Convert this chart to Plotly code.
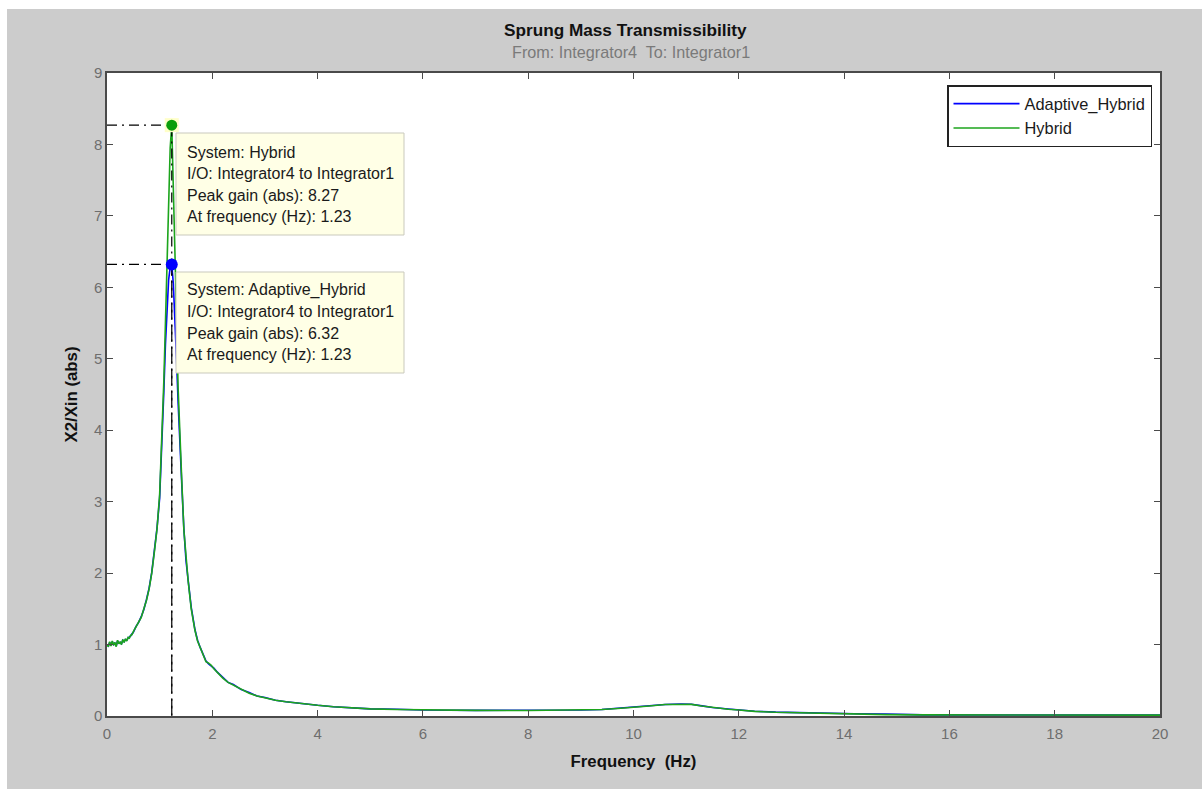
import plotly.graph_objects as go

# ---------------- data ----------------
freq = [0.000, 0.025, 0.050, 0.075, 0.100, 0.125, 0.150, 0.175, 0.200, 0.225,
        0.250, 0.275, 0.300, 0.325, 0.350, 0.375, 0.400, 0.425, 0.450, 0.475,
        0.500, 0.55, 0.60, 0.65, 0.70, 0.75, 0.80, 0.85, 0.90, 0.95,
        1.00, 1.04, 1.08, 1.11, 1.14, 1.17, 1.20, 1.23, 1.26, 1.29,
        1.32, 1.35, 1.38, 1.42, 1.46, 1.50, 1.54, 1.60, 1.67, 1.72,
        1.77, 1.83, 1.88, 1.93, 1.98, 2.03, 2.10, 2.20, 2.30, 2.40,
        2.55, 2.70, 2.85, 3.00, 3.20, 3.40, 3.60, 3.80, 4.00, 4.30,
        4.60, 5.00, 5.50, 6.00, 7.00, 8.00, 8.60, 9.00, 9.40, 9.70,
        10.0, 10.3, 10.6, 10.9, 11.1, 11.3, 11.5, 11.8, 12.0, 12.3,
        12.7, 13.2, 13.7, 14.2, 14.8, 15.5, 16.5, 18.0, 20.0]

hybrid = [1.00, 0.97, 1.04, 0.98, 1.05, 0.99, 1.03, 0.97, 1.06, 1.01,
          1.04, 1.00, 1.07, 1.03, 1.08, 1.05, 1.10, 1.09, 1.13, 1.14,
          1.18, 1.24, 1.30, 1.38, 1.50, 1.62, 1.78, 2.00, 2.30, 2.62,
          3.10, 3.80, 4.70, 5.50, 6.40, 7.30, 7.95, 8.27, 7.50, 6.50,
          5.60, 4.60, 3.90, 3.30, 2.60, 2.20, 1.90, 1.50, 1.20, 1.05,
          0.95, 0.83, 0.76, 0.74, 0.71, 0.66, 0.60, 0.53, 0.47, 0.43,
          0.37, 0.32, 0.28, 0.25, 0.22, 0.20, 0.18, 0.165, 0.15, 0.13,
          0.115, 0.100, 0.090, 0.083, 0.079, 0.077, 0.079, 0.083, 0.092, 0.105,
          0.118, 0.140, 0.160, 0.167, 0.163, 0.140, 0.118, 0.095, 0.083, 0.065,
          0.052, 0.043, 0.033, 0.025, 0.019, 0.016, 0.014, 0.013, 0.012]

adaptive_hybrid = [1.00, 0.98, 1.03, 0.99, 1.04, 1.00, 1.02, 0.98, 1.05, 1.02,
                   1.03, 1.01, 1.06, 1.04, 1.07, 1.06, 1.09, 1.10, 1.12, 1.15,
                   1.17, 1.25, 1.31, 1.39, 1.49, 1.63, 1.79, 2.01, 2.29, 2.63,
                   3.05, 3.70, 4.55, 5.20, 5.75, 6.10, 6.28, 6.32, 6.05, 5.60,
                   5.00, 4.40, 3.80, 3.25, 2.62, 2.18, 1.91, 1.52, 1.21, 1.06,
                   0.96, 0.84, 0.77, 0.73, 0.70, 0.67, 0.61, 0.54, 0.47, 0.44,
                   0.37, 0.33, 0.28, 0.26, 0.22, 0.20, 0.18, 0.168, 0.15, 0.13,
                   0.117, 0.100, 0.095, 0.083, 0.079, 0.077, 0.084, 0.083, 0.092, 0.110,
                   0.118, 0.140, 0.160, 0.168, 0.165, 0.142, 0.118, 0.097, 0.085, 0.067,
                   0.054, 0.045, 0.035, 0.031, 0.027, 0.016, 0.014, 0.013, 0.012]

series_names = ["Adaptive_Hybrid", "Hybrid"]
series_colors = ["#0000ff", "#1ca51c"]

peak_systems = ["Hybrid", "Adaptive_Hybrid"]
peak_freq = [1.23, 1.23]
peak_gain = [8.27, 6.32]

x_ticks = [0, 2, 4, 6, 8, 10, 12, 14, 16, 18, 20]
y_ticks = [0, 1, 2, 3, 4, 5, 6, 7, 8, 9]

# ---------------- layout helpers (pixel -> paper) ----------------
W, H = 1202, 789
L, R, T, B = 107, 1160, 73, 716


def pxx(xp):
    return (xp - L) / (R - L)


def pxy(yp):
    return (B - yp) / (B - T)


FONT = "Liberation Sans, Arial, Helvetica, sans-serif"
FRAME = "#4a4a4a"
TICKTXT = "#6e6e6e"

fig = go.Figure()

for name, col, vals in zip(series_names, series_colors, [adaptive_hybrid, hybrid]):
    fig.add_trace(go.Scatter(x=freq, y=vals, mode="lines", name=name,
                             line=dict(color=col, width=1.6)))

# dash-dot guide lines from the peaks
gx, gy = [], []
for f, g in zip(peak_freq, peak_gain):
    gx += [0, f, f, None]
    gy += [g, g, 0, None]
fig.add_trace(go.Scatter(x=gx, y=gy, mode="lines", showlegend=False, hoverinfo="skip",
                         line=dict(color="black", width=1.2, dash="10px,5px,2px,5px")))

# peak markers
fig.add_trace(go.Scatter(x=peak_freq[:1], y=peak_gain[:1], mode="markers", showlegend=False,
                         marker=dict(symbol="square", size=14, color="#ffffc8",
                                     line=dict(width=0))))
fig.add_trace(go.Scatter(x=peak_freq[:1], y=peak_gain[:1], mode="markers", showlegend=False,
                         marker=dict(symbol="circle", size=11, color="#0a9e0a",
                                     line=dict(width=0))))
fig.add_trace(go.Scatter(x=peak_freq[1:], y=peak_gain[1:], mode="markers", showlegend=False,
                         marker=dict(symbol="circle", size=12, color="#0000ff",
                                     line=dict(width=0))))

shapes = []
annotations = []

# white strips at the left and top edge of the screenshot
shapes.append(dict(type="rect", xref="paper", yref="paper", layer="above",
                   x0=pxx(0), x1=pxx(7), y0=pxy(H), y1=pxy(0),
                   fillcolor="white", line=dict(width=0)))
shapes.append(dict(type="rect", xref="paper", yref="paper", layer="above",
                   x0=pxx(0), x1=pxx(W), y0=pxy(9), y1=pxy(0),
                   fillcolor="white", line=dict(width=0)))

# data tips
tip_boxes = [(176, 404, 133, 235), (176, 404, 272, 373)]
tip_line_y = [[152, 173.5, 195, 216.5], [290, 311.5, 333, 354.5]]
for (x0, x1, y0, y1), ys, sysname, f, g in zip(tip_boxes, tip_line_y, peak_systems, peak_freq, peak_gain):
    shapes.append(dict(type="rect", xref="paper", yref="paper", layer="above",
                       x0=pxx(x0), x1=pxx(x1), y0=pxy(y1), y1=pxy(y0),
                       fillcolor="#ffffe6", line=dict(color="#c9c9bd", width=1)))
    lines = [f"System: {sysname}",
             "I/O: Integrator4 to Integrator1",
             f"Peak gain (abs): {g:.2f}",
             f"At frequency (Hz): {f:.2f}"]
    for txt, yy in zip(lines, ys):
        annotations.append(dict(text=txt, xref="paper", yref="paper",
                                x=pxx(185), y=pxy(yy), xanchor="left", yanchor="middle",
                                showarrow=False, font=dict(family=FONT, size=16, color="#1a1a1a")))

# titles
annotations.append(dict(text="<b>Sprung Mass Transmissibility</b>", xref="paper", yref="paper",
                        x=pxx(625), y=pxy(30), xanchor="center", yanchor="middle",
                        showarrow=False, font=dict(family=FONT, size=17.2, color="#111111")))
annotations.append(dict(text="From: Integrator4\u00a0 To: Integrator1", xref="paper", yref="paper",
                        x=pxx(631), y=pxy(52), xanchor="center", yanchor="middle",
                        showarrow=False, font=dict(family=FONT, size=16.2, color="#7a7a7a")))

fig.update_layout(
    width=W, height=H,
    margin=dict(l=L, r=W - R, t=T, b=H - B, pad=0),
    paper_bgcolor="#cccccc", plot_bgcolor="white",
    font=dict(family=FONT, size=15, color=TICKTXT),
    shapes=shapes, annotations=annotations,
    showlegend=True,
    legend=dict(x=pxx(1152), y=pxy(85), xanchor="right", yanchor="top",
                bgcolor="white", bordercolor="#222222", borderwidth=1.5,
                font=dict(family=FONT, size=16.4, color="#1a1a1a"),
                itemwidth=66, tracegroupgap=0),
    xaxis=dict(range=[0, 20], tickvals=x_ticks, ticks="inside", ticklen=6, tickwidth=1,
               tickcolor=FRAME, showline=True, linecolor=FRAME, linewidth=1.5, mirror="ticks",
               showgrid=False, zeroline=False, ticklabelstandoff=3,
               tickfont=dict(family=FONT, size=15, color=TICKTXT),
               title=dict(text="<b>Frequency\u00a0 (Hz)</b>", standoff=14,
                          font=dict(family=FONT, size=16.8, color="#111111"))),
    yaxis=dict(range=[0, 9], tickvals=y_ticks, ticks="inside", ticklen=6, tickwidth=1,
               tickcolor=FRAME, showline=True, linecolor=FRAME, linewidth=1.5, mirror="ticks",
               showgrid=False, zeroline=False,
               tickfont=dict(family=FONT, size=15, color=TICKTXT),
               title=dict(text="<b>X2/Xin (abs)</b>", standoff=12,
                          font=dict(family=FONT, size=16.8, color="#111111"))),
)

fig.write_html("out.html", config={"displayModeBar": False},
               post_script="document.body.style.margin='0';document.body.style.overflow='hidden';")
